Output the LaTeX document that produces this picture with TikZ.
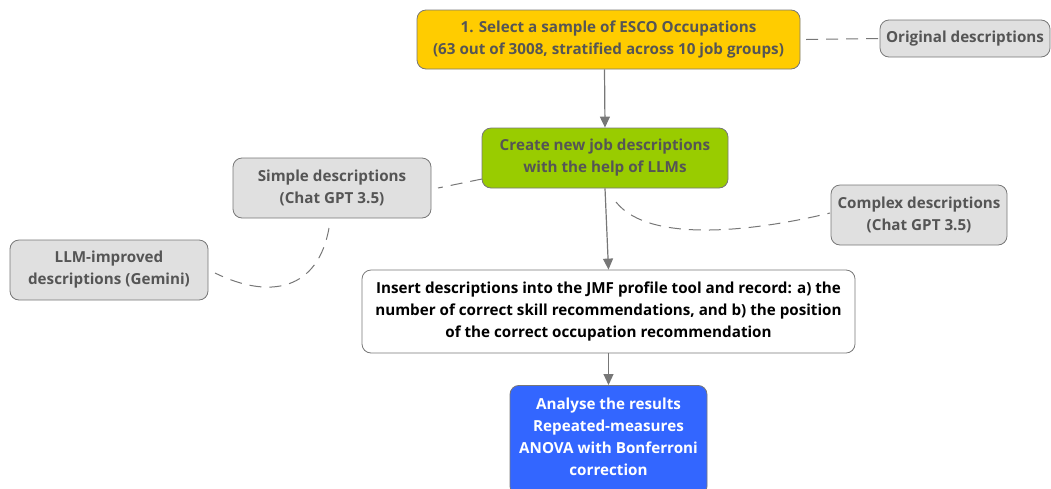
\documentclass[tikz,border=0pt]{standalone}
\usepackage{fontspec}
\setmainfont{Open Sans}
\usetikzlibrary{arrows.meta}
\definecolor{txtgray}{HTML}{555555}
\definecolor{linegray}{HTML}{777777}
\definecolor{yel}{HTML}{FFCC00}
\definecolor{grn}{HTML}{99CC00}
\definecolor{lgray}{HTML}{E0E0E0}
\definecolor{blu}{HTML}{3366FF}
\tikzset{
  boxfont/.style={font=\bfseries\fontsize{15.2}{22}\selectfont},
  box/.style={draw=linegray, line width=0.8pt, rounded corners=9pt, align=center,
    inner sep=0pt, boxfont, text=txtgray},
  side/.style={box, fill=lgray},
  flow/.style={draw=linegray, line width=1.2pt, -{Triangle[length=11pt,width=10pt]}},
  link/.style={draw=linegray, line width=1pt, dash pattern=on 12pt off 8pt},
}
\begin{document}
\begin{tikzpicture}[x=1pt,y=-1pt]
\useasboundingbox (0,0) rectangle (1051,488);
\clip (0,0) rectangle (1051,488);
\node[box, fill=yel, minimum width=383pt, minimum height=59pt] (sel) at (608.5,39.5)
  {1. Select a sample of ESCO Occupations\\(63 out of 3008, stratified across 10 job groups)};
\node[side, minimum width=170pt, minimum height=37pt] (orig) at (965,38.5) {Original descriptions};
\node[box, fill=grn, minimum width=246pt, minimum height=60pt] (crt) at (605,158)
  {Create new job descriptions\\with the help of LLMs};
\node[side, minimum width=198pt, minimum height=60pt] (simp) at (332,188)
  {Simple descriptions\\(Chat GPT 3.5)};
\node[side, minimum width=176pt, minimum height=60pt] (cplx) at (919,215)
  {Complex descriptions\\(Chat GPT 3.5)};
\node[side, minimum width=198pt, minimum height=60pt] (llm) at (109,270)
  {LLM-improved\\descriptions (Gemini)};
\node[box, fill=white, text=black, minimum width=493pt, minimum height=83pt] (ins) at (608.5,311.5)
  {Insert descriptions into the JMF profile tool and record: a) the\\number of correct skill recommendations, and b) the position\\of the correct occupation recommendation};
\node[box, fill=blu, text=white, minimum width=197pt, minimum height=110pt, anchor=north] (ana) at (608.5,385) {};
\node[boxfont, text=white, align=center, anchor=north] (anatxt) at (608.5,394)
  {Analyse the results\\Repeated-measures\\ANOVA with Bonferroni\\correction};

\draw[flow] (sel.south) ++(-4,0) coordinate (s1) -- (crt.north);
\draw[flow] (crt.south) -- (ins.north);
\draw[flow] (ins.south) -- (ana.north);

\coordinate (o1) at (806,39.5);
\draw[link] (o1) -- (orig.west);
\coordinate (g1) at (482,179);
\coordinate (s2) at (438,188);
\draw[link] (g1) -- (s2);
\coordinate (g2) at (616,202);
\coordinate (c1) at (830,213);
\draw[link] (g2) .. controls (650,245) and (760,230) .. (c1);
\coordinate (s3) at (329,228);
\coordinate (l1) at (215,273);
\draw[link] (s3) .. controls (318,290) and (270,300) .. (l1);
\end{tikzpicture}
\end{document}
